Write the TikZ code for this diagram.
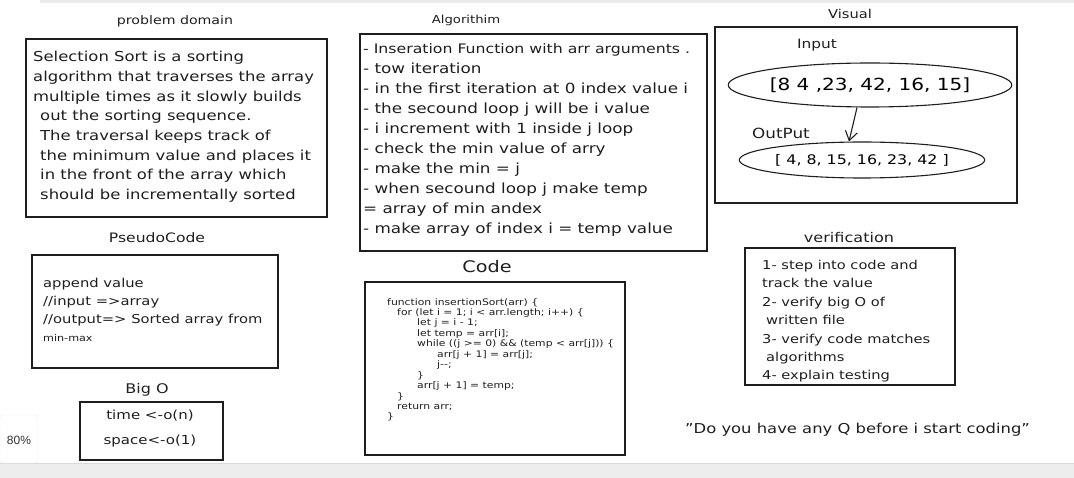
\documentclass[tikz,border=0pt]{standalone}
\usepackage{fontspec}
\setmainfont{DejaVu Sans}[FakeStretch=1.2]
\newfontfamily\uifont{Liberation Sans}
\usetikzlibrary{arrows.meta,shapes.geometric}
\definecolor{ink}{HTML}{1E1E1E}
\newcommand{\fs}[1]{\fontsize{#1}{#1}\selectfont}
\tikzset{
  box/.style={draw=ink, line width=1.3pt},
  ttl/.style={text=ink, inner sep=0pt},
  txt/.style={text=ink, align=left, inner sep=0pt, anchor=north west},
  ell/.style={draw=ink, line width=1.1pt, ellipse, inner sep=0pt},
}
\begin{document}
\begin{tikzpicture}[x=1pt,y=-1pt]
\useasboundingbox (0,0) rectangle (1074,478);
% browser chrome
\fill[black!8] (40,0) rectangle (1074,3);
\fill[black!7] (0,463) rectangle (1074,478);
\draw[black!15] (0,463) -- (1074,463);
\node[draw=black!8, fill=white, rounded corners=3pt, minimum width=38pt, minimum height=48pt, inner sep=0pt] (zoombox) at (19,439) {};
\node[text=black!80, font=\uifont\fontsize{12}{14}\selectfont, inner sep=0pt] (zoomtxt) at (19,440) {80\%};

% problem domain
\node[ttl, font=\fs{11.8}] (pdt) at (175,21) {problem domain};
\draw[box] (26,39) rectangle (327,217);
\node[txt, font=\fontsize{13.7}{19.7}\selectfont] (pdtxt) at (33,51) {Selection Sort is a sorting\\
algorithm that traverses the array\\
multiple times as it slowly builds\\
\hspace*{7pt}out the sorting sequence.\\
\hspace*{7pt}The traversal keeps track of\\
\hspace*{7pt}the minimum value and places it\\
\hspace*{7pt}in the front of the array which\\
\hspace*{7pt}should be incrementally sorted};

% Algorithm
\node[ttl, font=\fs{11}] (algt) at (466,20) {Algorithim};
\draw[box] (360,34) rectangle (707,251);
\node[txt, font=\fontsize{14}{20}\selectfont] (algtxt) at (363,43) {{\fontsize{13.1}{20}\selectfont - Inseration Function with arr arguments .}\\
- tow iteration\\
- in the first iteration at 0 index value i\\
- the secound loop j will be i value\\
- i increment with 1 inside j loop\\
- check the min value of arry\\
- make the min = j\\
- when secound loop j make temp\\
= array of min andex\\
- make array of index i = temp value};

% Visual
\node[ttl, font=\fs{12.2}] (vist) at (850,14) {Visual};
\draw[box] (715,27) rectangle (1017,203);
\node[ttl, font=\fs{12.8}] (inp) at (817,45) {Input};
\node[ell, minimum width=225pt, minimum height=44pt, font=\fs{16.7}] (in) at (870,85) {[8 4 ,23, 42, 16, 15]};
\node[ttl, font=\fs{14}] (outp) at (781,133) {OutPut};
\node[ell, minimum width=210pt, minimum height=36pt, font=\fs{13.2}] (out) at (862,160) {[ 4, 8, 15, 16, 23, 42 ]};
\coordinate (a1) at ([xshift=-13pt]in.south);
\coordinate (a2) at ([xshift=-13pt]out.north);
\draw[ink, line width=1.1pt, -{Straight Barb[length=9pt,width=12pt]}] (a1) -- (a2);

% PseudoCode
\node[ttl, font=\fs{13}] (pst) at (157,238) {PseudoCode};
\draw[box] (32,255) rectangle (278,368);
\node[txt, font=\fontsize{12.3}{18}\selectfont] (pstxt) at (43,278) {append value\\
//input =>array\\
//output=> Sorted array from\\
{\fontsize{9.3}{12}\selectfont min-max}};

% Big O
\node[ttl, font=\fs{13.3}] (bigt) at (147,390) {Big O};
\draw[box] (80,402) rectangle (223,460);
\node[ttl, font=\fs{12.5}] (bt1) at (150,416) {time <-o(n)};
\node[ttl, font=\fs{12.5}] (bt2) at (150,441) {space<-o(1)};

% Code
\node[ttl, font=\fs{16}] (codet) at (487,267) {Code};
\draw[box] (365,282) rectangle (625,455);
\node[txt, font=\fontsize{9}{10.45}\selectfont] (codetxt) at (387,298) {function insertionSort(arr) \{\\
\hspace*{10pt}for (let i = 1; i < arr.length; i++) \{\\
\hspace*{30pt}let j = i - 1;\\
\hspace*{30pt}let temp = arr[i];\\
\hspace*{30pt}while ((j >= 0) \&\& (temp < arr[j])) \{\\
\hspace*{50pt}arr[j + 1] = arr[j];\\
\hspace*{50pt}j-{}-;\\
\hspace*{30pt}\}\\
\hspace*{30pt}arr[j + 1] = temp;\\
\hspace*{10pt}\}\\
\hspace*{10pt}return arr;\\
\}};

% verification
\node[ttl, font=\fs{13.4}] (vert) at (849,238) {verification};
\draw[box] (745,248) rectangle (955,385);
\node[txt, font=\fontsize{12.2}{18.4}\selectfont] (vertxt) at (762,260) {1- step into code and\\
track the value\\
2- verify big O of\\
\hspace*{4pt}written file\\
3- verify code matches\\
\hspace*{4pt}algorithms\\
4- explain testing};

% quote
\node[text=ink, font=\fs{13.65}, inner sep=0pt, anchor=west] (quote) at (685,430) {"Do you have any Q before i start coding"};
\end{tikzpicture}
\end{document}
